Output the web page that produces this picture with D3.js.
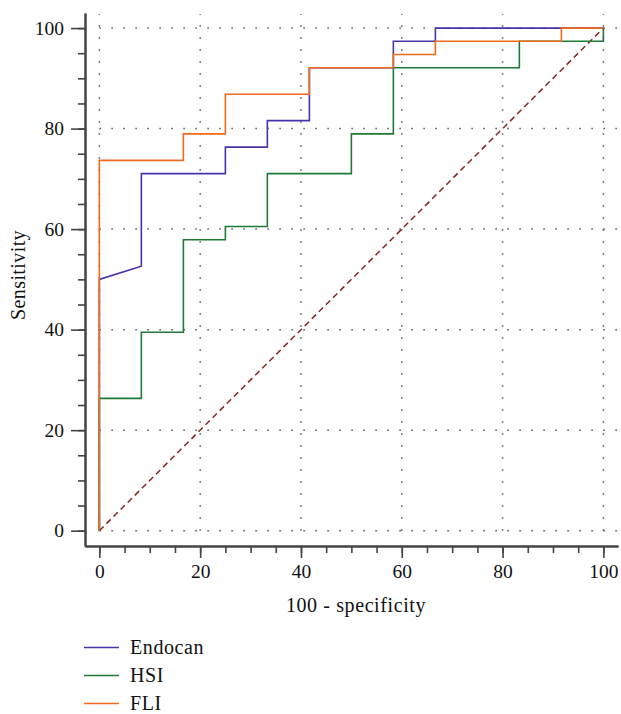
<!DOCTYPE html>
<html>
<head>
<meta charset="utf-8">
<script src="https://cdn.jsdelivr.net/npm/d3@7"></script>
<style>
  body { margin: 0; background: #fff; }
  text { font-family: "Liberation Serif", "Times New Roman", serif; fill: #111; }
</style>
</head>
<body>
<div id="chart"></div>
<script>
// ROC curves: 100 - specificity (x) vs sensitivity (y), vertices of the step curves
var endocanX = [0, 0, 8.33, 8.33, 25, 25, 33.33, 33.33, 41.67, 41.67, 58.33, 58.33, 66.67, 66.67, 100];
var endocanY = [0, 50, 52.63, 71.05, 71.05, 76.32, 76.32, 81.58, 81.58, 92.11, 92.11, 97.37, 97.37, 100, 100];

var hsiX = [0, 0, 8.33, 8.33, 16.67, 16.67, 25, 25, 33.33, 33.33, 50, 50, 58.33, 58.33, 83.33, 83.33, 100, 100];
var hsiY = [0, 26.32, 26.32, 39.47, 39.47, 57.89, 57.89, 60.53, 60.53, 71.05, 71.05, 78.95, 78.95, 92.11, 92.11, 97.37, 97.37, 100];

var fliX = [0, 0, 16.67, 16.67, 25, 25, 41.67, 41.67, 58.33, 58.33, 66.67, 66.67, 91.67, 91.67, 100];
var fliY = [0, 73.68, 73.68, 78.95, 78.95, 86.84, 86.84, 92.11, 92.11, 94.74, 94.74, 97.37, 97.37, 100, 100];

var seriesNames = ["Endocan", "HSI", "FLI"];
var seriesColors = ["#4535AD", "#1F7A35", "#F06A1E"];
var majorTicks = [0, 20, 40, 60, 80, 100];
var minorTicks = d3.range(0, 101, 5);

var width = 621;
var height = 714;

var svg = d3.select("#chart")
  .append("svg")
  .attr("width", width)
  .attr("height", height);

var x = d3.scaleLinear().domain([-2.85, 102.9]).range([85, 618]);
var y = d3.scaleLinear().domain([-3.05, 103]).range([546, 13]);

// dotted grid
var grid = svg.append("g")
  .attr("stroke", "#555")
  .attr("stroke-width", 1.5)
  .attr("stroke-dasharray", "1.5,10.5");

grid.selectAll("line.v")
  .data(majorTicks)
  .enter()
  .append("line")
  .attr("class", "v")
  .attr("x1", (d) => x(d))
  .attr("x2", (d) => x(d))
  .attr("y1", y(0))
  .attr("y2", 14);

grid.selectAll("line.h")
  .data(majorTicks)
  .enter()
  .append("line")
  .attr("class", "h")
  .attr("x1", x(0))
  .attr("x2", 620)
  .attr("y1", (d) => y(d))
  .attr("y2", (d) => y(d));

// axes
function styleAxis(g) {
  g.select(".domain").attr("stroke", "#444").attr("stroke-width", 2);
  g.selectAll(".tick line").attr("stroke", "#444").attr("stroke-width", 1.6);
  g.selectAll(".tick text")
    .style("font-family", '"Liberation Serif", serif')
    .style("font-size", "19.5px")
    .attr("fill", "#111");
}

svg.append("g")
  .attr("transform", "translate(0," + y.range()[0] + ")")
  .call(d3.axisBottom(x).tickValues(minorTicks).tickSize(7).tickSizeOuter(0).tickFormat(""))
  .call(styleAxis);

svg.append("g")
  .attr("transform", "translate(0," + y.range()[0] + ")")
  .call(d3.axisBottom(x).tickValues(majorTicks).tickSize(12).tickSizeOuter(0).tickPadding(6))
  .call(styleAxis);

svg.append("g")
  .attr("transform", "translate(" + x.range()[0] + ",0)")
  .call(d3.axisLeft(y).tickValues(minorTicks).tickSize(7).tickSizeOuter(0).tickFormat(""))
  .call(styleAxis);

svg.append("g")
  .attr("transform", "translate(" + x.range()[0] + ",0)")
  .call(d3.axisLeft(y).tickValues(majorTicks).tickSize(14).tickSizeOuter(0).tickPadding(7))
  .call(styleAxis);

// axis titles
svg.append("text")
  .attr("x", 356)
  .attr("y", 612)
  .attr("text-anchor", "middle")
  .style("font-size", "20px")
  .style("letter-spacing", "0.6px")
  .text("100 - specificity");

svg.append("text")
  .attr("transform", "translate(25,275) rotate(-90)")
  .attr("text-anchor", "middle")
  .style("font-size", "20px")
  .style("letter-spacing", "0.4px")
  .text("Sensitivity");

// reference diagonal
svg.append("line")
  .attr("x1", x(0))
  .attr("y1", y(0))
  .attr("x2", x(100))
  .attr("y2", y(100))
  .attr("stroke", "#8B2323")
  .attr("stroke-width", 1.5)
  .attr("stroke-dasharray", "6,4");

// curves
var line = d3.line()
  .x((d) => x(d[0]))
  .y((d) => y(d[1]));

var series = [
  d3.zip(endocanX, endocanY),
  d3.zip(hsiX, hsiY),
  d3.zip(fliX, fliY)
];

svg.selectAll("path.roc")
  .data(series)
  .enter()
  .append("path")
  .attr("class", "roc")
  .attr("d", line)
  .attr("fill", "none")
  .attr("stroke", (d, i) => seriesColors[i])
  .attr("stroke-width", 1.6);

// legend
var legend = svg.selectAll("g.legend")
  .data(seriesNames)
  .enter()
  .append("g")
  .attr("class", "legend")
  .attr("transform", function (d, i) {
    return "translate(84," + (647.5 + i * 28) + ")";
  });

legend.append("line")
  .attr("x1", 0)
  .attr("x2", 35)
  .attr("stroke", (d, i) => seriesColors[i])
  .attr("stroke-width", 1.6);

legend.append("text")
  .attr("x", 46)
  .attr("dy", "0.3em")
  .style("font-size", "20px")
  .style("letter-spacing", "0.6px")
  .text((d) => d);
</script>
</body>
</html>
